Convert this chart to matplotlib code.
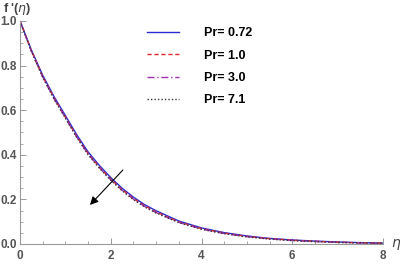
import matplotlib
matplotlib.use("Agg")
import matplotlib.pyplot as plt
from matplotlib.ticker import MultipleLocator

plt.rcParams['font.family'] = ['Liberation Sans', 'DejaVu Sans']

eta = [0, 0.25, 0.5, 0.75, 1.0, 1.25, 1.5, 1.75, 2.0, 2.25, 2.5, 2.75, 3.0,
       3.5, 4.0, 4.5, 5.0, 5.5, 6.0, 6.5, 7.0, 7.5, 8.0]
f_pr072 = [1.0, 0.870, 0.757, 0.661, 0.576, 0.490, 0.413, 0.352, 0.298, 0.250, 0.210,
           0.176, 0.149, 0.103, 0.072, 0.051, 0.036, 0.025, 0.018, 0.013, 0.009, 0.006, 0.004]
f_pr10 = [1.0, 0.867, 0.752, 0.655, 0.569, 0.483, 0.406, 0.345, 0.291, 0.244, 0.204,
          0.171, 0.144, 0.099, 0.069, 0.049, 0.034, 0.024, 0.017, 0.012, 0.008, 0.005, 0.004]
f_pr30 = [1.0, 0.865, 0.749, 0.652, 0.566, 0.480, 0.403, 0.342, 0.288, 0.241, 0.201,
          0.168, 0.141, 0.097, 0.067, 0.047, 0.033, 0.023, 0.016, 0.011, 0.008, 0.005, 0.003]
f_pr71 = [1.0, 0.864, 0.748, 0.650, 0.564, 0.478, 0.401, 0.340, 0.286, 0.239, 0.199,
          0.166, 0.139, 0.096, 0.066, 0.046, 0.032, 0.022, 0.015, 0.011, 0.007, 0.005, 0.003]
labels = ['Pr= 0.72', 'Pr= 1.0', 'Pr= 3.0', 'Pr= 7.1']

fig = plt.figure(figsize=(4, 2.64), dpi=100)
ax = fig.add_axes([0.05, 0.0758, 0.9075, 0.8447])

ax.plot(eta, f_pr072, color='#2b2bd0', lw=1.0, ls='-', label=labels[0])
ax.plot(eta, f_pr10, color='#e02828', lw=1.0, ls=(0, (3, 2)), label=labels[1])
ax.plot(eta, f_pr30, color='#a030b0', lw=1.0, ls=(0, (5, 2, 1, 2)), label=labels[2])
ax.plot(eta, f_pr71, color='#333333', lw=1.0, ls=(0, (1, 1.5)), label=labels[3])

ax.set_xlim(0, 8)
ax.set_ylim(0, 1.0)
ax.xaxis.set_minor_locator(MultipleLocator(0.5))
ax.yaxis.set_minor_locator(MultipleLocator(0.05))
ax.set_xticks([0, 2, 4, 6, 8])
ax.set_xticklabels(['0', '2', '4', '6', '8'])
ax.set_yticks([0.0, 0.2, 0.4, 0.6, 0.8, 1.0])
ax.set_yticklabels(['0.0', '0.2', '0.4', '0.6', '0.8', '1.0'])

for s in ['top', 'right']:
    ax.spines[s].set_visible(False)
for s in ['left', 'bottom']:
    ax.spines[s].set_color('#999999')
    ax.spines[s].set_linewidth(0.8)
ax.tick_params(which='both', direction='in', color='#999999', labelcolor='#555555',
               labelsize=8.5)
ax.tick_params(which='major', length=4, width=0.7)
ax.tick_params(which='minor', length=2, width=0.6)
ax.tick_params(axis='x', pad=4)
ax.tick_params(axis='y', pad=2.5)
for t in ax.get_xticklabels() + ax.get_yticklabels():
    t.set_fontweight('bold')

ax.annotate('', xy=(1.50, 0.166), xytext=(2.31, 0.341),
            arrowprops=dict(arrowstyle='-|>', color='black', lw=0.8,
                            mutation_scale=12))

fig.text(0.008, 0.997, r"f '($\eta$)", fontsize=9, color='#444444', fontweight='bold',
         va='top')
fig.text(0.977, 0.075, r"$\eta$", fontsize=10, color='#444444', va='center')

leg = ax.legend(loc='upper left', bbox_to_anchor=(0.32, 1.022), frameon=False,
                prop={'weight': 'bold', 'size': 9}, handlelength=2.56,
                labelspacing=0.83, handletextpad=2.0)

fig.savefig('out.png', dpi=100)
